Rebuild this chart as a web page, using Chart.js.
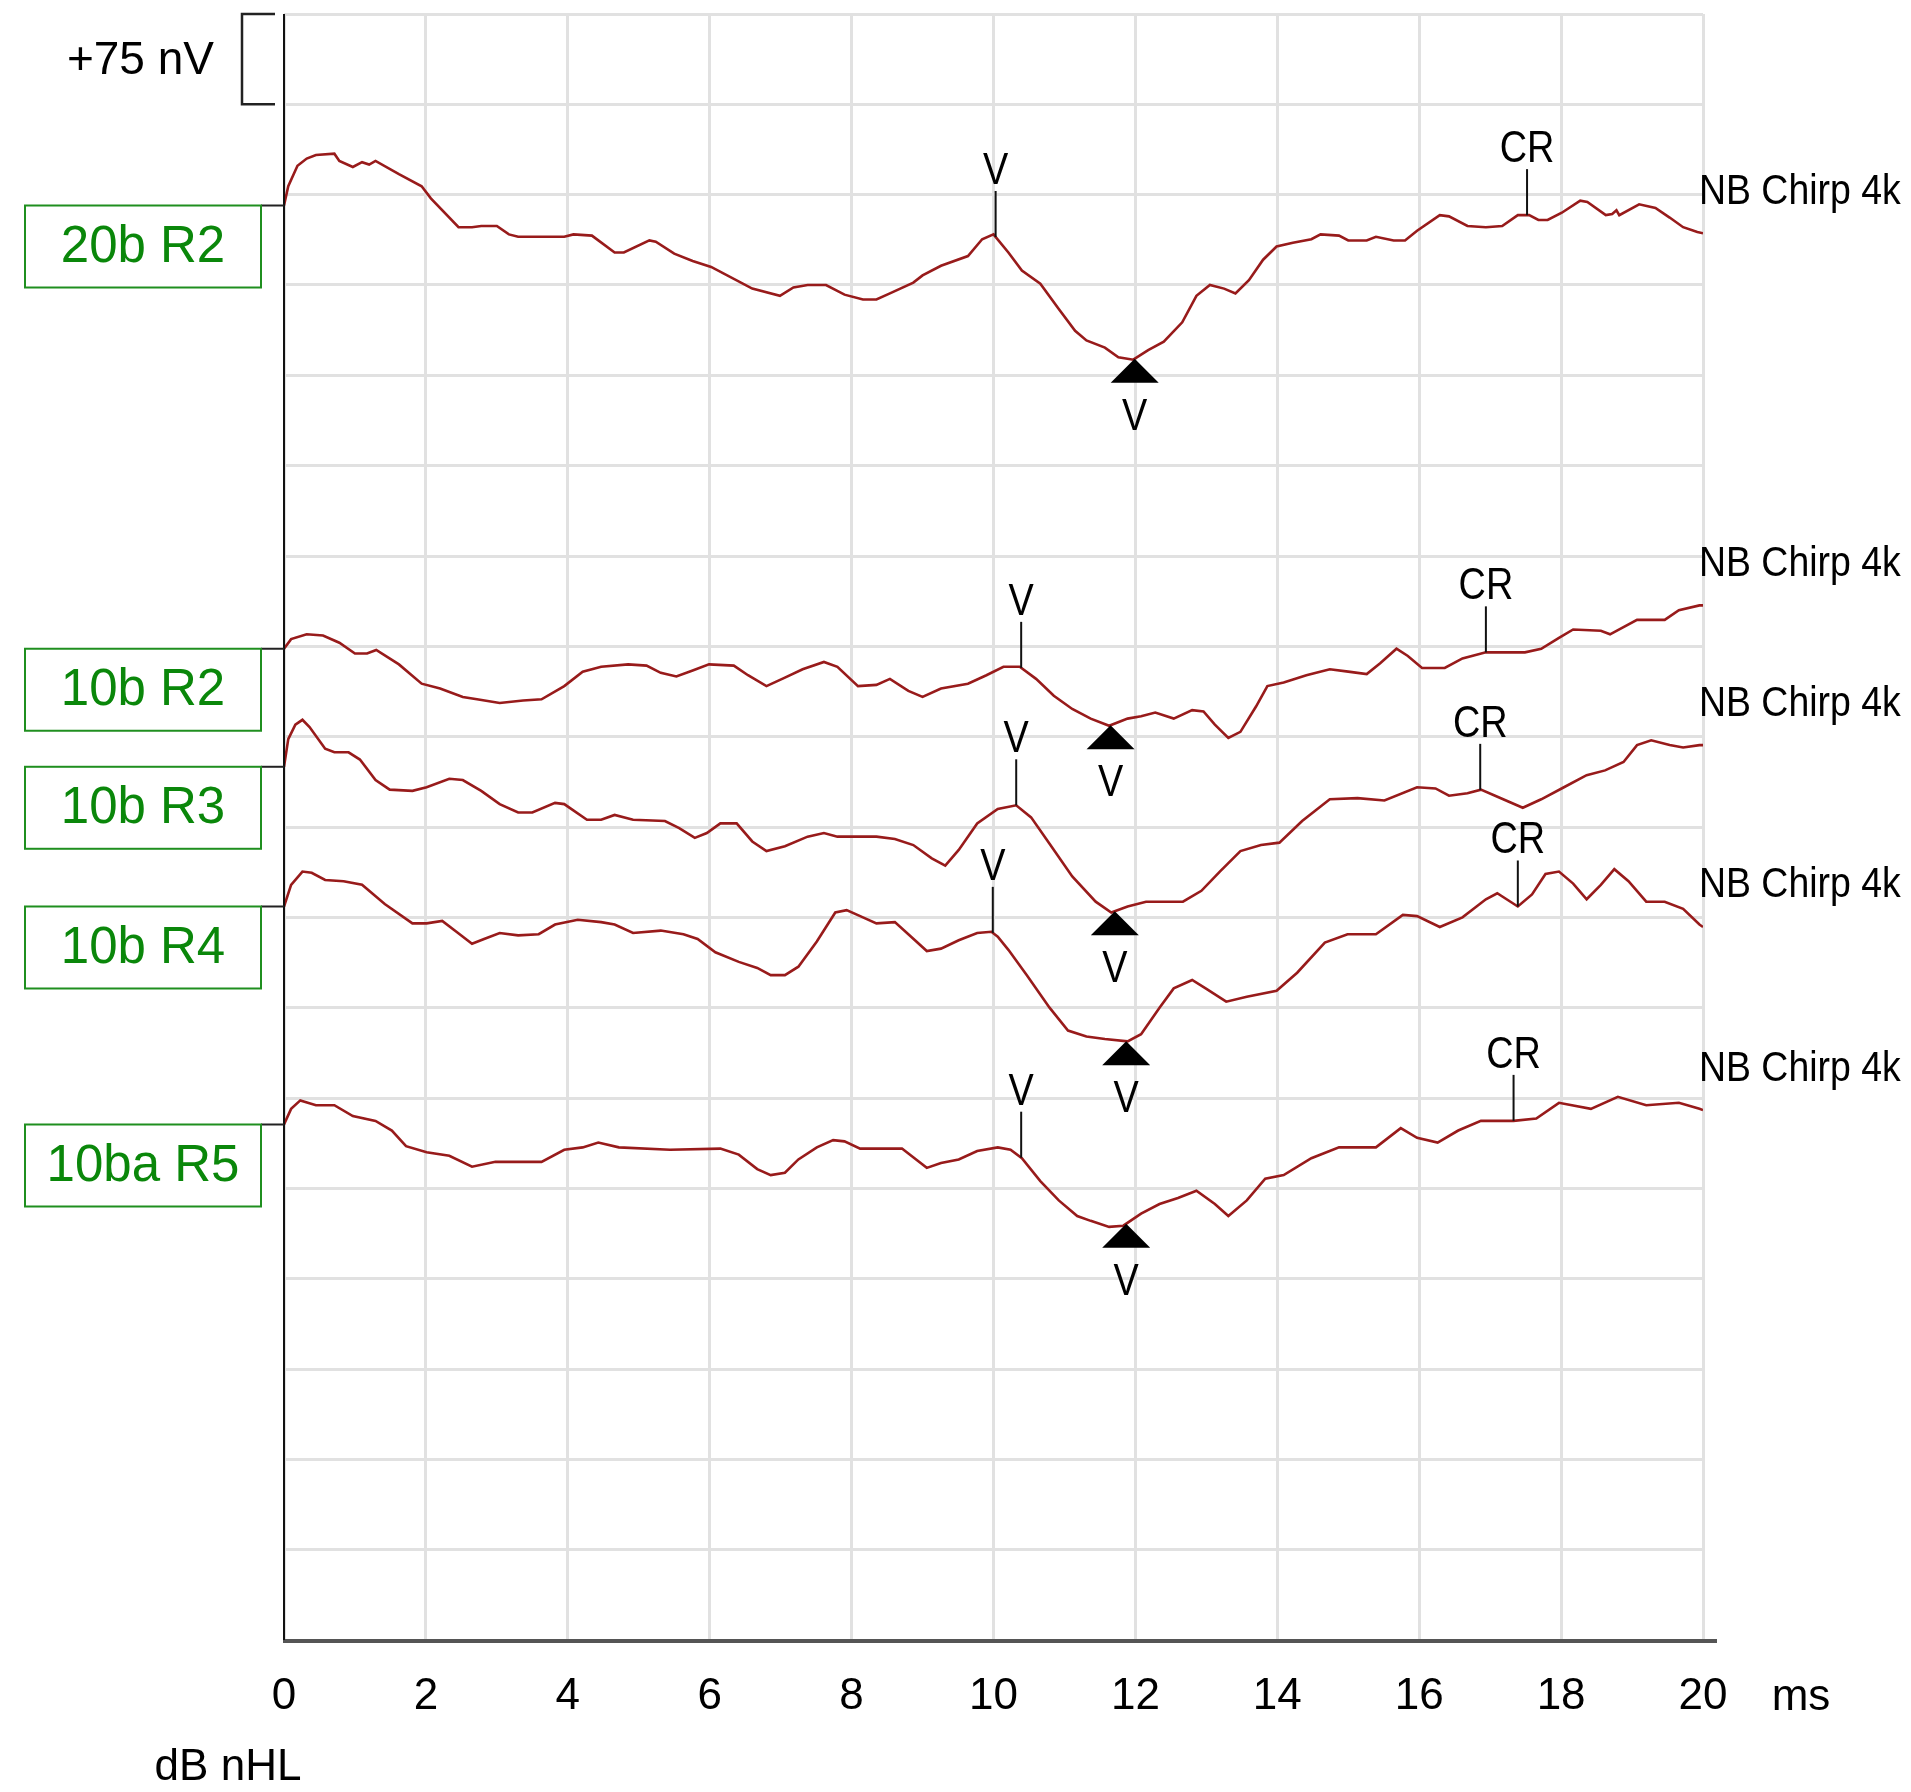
<!DOCTYPE html>
<html>
<head>
<meta charset="utf-8">
<title>ABR NB Chirp 4k</title>
<script src="https://cdn.jsdelivr.net/npm/chart.js@4.4.1/dist/chart.umd.min.js"></script>
<style>
body{margin:0;background:#fff;}
canvas{display:block;}
</style>
</head>
<body>
<canvas id="abr" width="1911" height="1792"></canvas>
<script>

/* AXES */

const xTicks=[0,2,4,6,8,10,12,14,16,18,20];
const yMax=1350;
const scaleBar=75;


/* TRACE NAMES, BASELINES (nV) AND STIMULUS LABELS */

const traceNames=["20b R2","10b R2","10b R3","10b R4","10ba R5"];
const baselines=[1191,823,725,609,428];
const stimLabel="NB Chirp 4k";
const stimLabelY=[1202,893,777,627,474];


/* TRACE 1 : 20b R2 (time ms / amplitude nV) */

const t1Time=[0,0.06,0.19,0.32,0.45,0.71,0.78,0.97,1.1,1.2,1.29,1.62,1.94,2.07,2.46,2.65,2.78,3.0,3.17,3.3,3.95,4.08,4.34,4.66,4.79,5.15,5.24,5.5,5.76,6.02,6.6,6.99,7.18,7.38,7.64,7.9,8.16,8.35,8.54,8.87,9.0,9.26,9.64,9.84,10.0,10.21,10.4,10.66,10.92,11.15,11.31,11.57,11.76,11.97,12.18,12.4,12.66,12.86,13.05,13.25,13.41,13.6,13.8,13.99,14.22,14.48,14.61,14.87,15.0,15.26,15.39,15.64,15.8,15.97,16.29,16.42,16.68,16.94,17.17,17.39,17.55,17.68,17.81,18.01,18.27,18.37,18.63,18.72,18.78,18.82,19.1,19.33,19.53,19.72,19.92,20.0];
const t1Amp=[0,16,33,39,42,43,37,32,36,34,37,26,16,6,-18,-18,-17,-17,-24,-26,-26,-24,-25,-39,-39,-29,-30,-40,-46,-51,-69,-75,-68,-66,-66,-74,-78,-78,-73,-64,-58,-50,-42,-28,-24,-39,-54,-65,-86,-104,-112,-118,-126,-128,-120,-113,-97,-75,-66,-69,-73,-62,-45,-34,-31,-28,-24,-25,-29,-29,-26,-29,-29,-21,-8,-9,-17,-18,-17,-8,-8,-12,-12,-6,4,3,-8,-7,-4,-8,1,-2,-10,-18,-22,-23];


/* TRACE 2 : 10b R2 */

const t2Time=[0,0.1,0.32,0.55,0.78,1.0,1.17,1.3,1.62,1.94,2.2,2.52,2.72,3.04,3.37,3.63,3.95,4.21,4.47,4.85,5.11,5.31,5.53,5.76,5.99,6.34,6.54,6.8,7.06,7.31,7.61,7.8,8.09,8.35,8.54,8.8,9.0,9.26,9.64,9.9,10.14,10.37,10.6,10.85,11.11,11.37,11.63,11.89,12.08,12.28,12.54,12.8,12.96,13.12,13.31,13.48,13.7,13.86,14.09,14.41,14.74,15.0,15.26,15.45,15.68,15.84,16.04,16.36,16.61,16.94,17.2,17.49,17.72,17.97,18.17,18.56,18.69,19.07,19.46,19.66,19.95,20.0];
const t2Amp=[0,8,12,11,5,-4,-4,-1,-13,-29,-33,-40,-42,-45,-43,-42,-31,-19,-15,-13,-14,-20,-23,-18,-13,-14,-22,-31,-24,-17,-11,-15,-31,-30,-25,-35,-40,-33,-29,-22,-15,-15,-25,-39,-50,-58,-64,-58,-56,-53,-58,-51,-52,-63,-74,-69,-48,-31,-28,-22,-17,-19,-21,-12,0,-6,-16,-16,-8,-3,-3,-3,0,9,16,15,12,24,24,32,36,36];


/* TRACE 3 : 10b R3 */

const t3Time=[0,0.06,0.16,0.26,0.36,0.58,0.71,0.91,1.07,1.29,1.49,1.81,2.01,2.33,2.52,2.78,3.04,3.3,3.5,3.82,3.95,4.27,4.47,4.66,4.92,5.37,5.57,5.79,5.96,6.15,6.38,6.6,6.8,7.06,7.38,7.61,7.8,8.35,8.61,8.87,9.13,9.32,9.51,9.77,10.06,10.32,10.53,10.79,11.11,11.44,11.66,11.89,12.15,12.41,12.67,12.93,13.19,13.48,13.77,14.03,14.35,14.74,15.13,15.51,15.97,16.23,16.42,16.68,16.87,17.07,17.46,17.72,18.04,18.36,18.62,18.88,19.07,19.27,19.53,19.72,19.95,20.0];
const t3Amp=[0,23,35,39,33,15,12,12,6,-11,-19,-20,-17,-10,-11,-20,-31,-38,-38,-30,-31,-44,-44,-40,-44,-45,-51,-59,-55,-47,-47,-62,-70,-66,-58,-55,-58,-58,-60,-65,-76,-82,-69,-47,-35,-32,-42,-64,-91,-112,-121,-116,-112,-112,-112,-103,-87,-70,-65,-63,-45,-27,-26,-28,-17,-18,-24,-22,-19,-24,-34,-27,-17,-7,-3,4,18,22,18,16,18,18];


/* TRACE 4 : 10b R4 */

const t4Time=[0,0.1,0.26,0.39,0.58,0.84,1.1,1.42,1.81,2.01,2.23,2.43,2.65,2.82,3.04,3.3,3.59,3.82,4.14,4.47,4.66,4.92,5.31,5.63,5.83,6.08,6.41,6.67,6.86,7.06,7.25,7.51,7.77,7.93,8.16,8.35,8.61,8.8,9.06,9.26,9.51,9.77,9.97,10.06,10.21,10.47,10.79,11.05,11.31,11.57,11.89,12.08,12.34,12.54,12.8,12.99,13.28,13.57,13.99,14.28,14.67,14.99,15.39,15.77,15.97,16.29,16.61,16.94,17.1,17.39,17.59,17.78,17.97,18.17,18.36,18.56,18.75,18.95,19.2,19.46,19.72,19.95,20.0];
const t4Amp=[0,18,29,28,22,21,18,2,-14,-14,-12,-21,-31,-27,-22,-24,-23,-15,-11,-13,-15,-22,-20,-23,-27,-38,-46,-51,-57,-57,-50,-29,-5,-3,-9,-14,-13,-23,-37,-35,-28,-22,-21,-25,-36,-57,-84,-103,-108,-110,-112,-106,-84,-68,-61,-68,-79,-75,-70,-55,-30,-23,-23,-7,-8,-17,-9,6,11,0,10,27,29,19,6,18,31,21,4,4,-2,-15,-17];


/* TRACE 5 : 10ba R5 */

const t5Time=[0,0.1,0.23,0.45,0.71,0.97,1.29,1.52,1.72,2.01,2.33,2.65,2.98,3.63,3.95,4.21,4.43,4.72,5.44,6.15,6.41,6.67,6.86,7.06,7.25,7.51,7.74,7.9,8.12,8.71,9.06,9.26,9.51,9.77,10.06,10.24,10.4,10.66,10.92,11.18,11.37,11.63,11.83,12.08,12.34,12.6,12.86,13.12,13.31,13.57,13.83,14.09,14.48,14.87,15.39,15.74,15.97,16.26,16.55,16.87,17.33,17.65,17.97,18.42,18.8,19.2,19.66,19.95,20.0];
const t5Amp=[0,13,20,16,16,7,3,-5,-18,-23,-26,-35,-31,-31,-21,-19,-15,-19,-21,-20,-25,-37,-42,-40,-29,-19,-13,-14,-20,-20,-36,-32,-29,-22,-19,-21,-28,-47,-63,-76,-80,-85,-84,-74,-66,-61,-55,-66,-76,-63,-45,-42,-28,-19,-19,-3,-11,-15,-5,3,3,5,18,13,23,16,18,13,12];


/* PEAK MARKERS (ms) */

const peakV=[10.03,10.39,10.32,9.99,10.39];
const troughV=[11.99,11.65,11.71,11.87,11.87];
const crMark=[17.52,16.94,16.86,17.39,17.33];


const traces=[
{time:t1Time,amp:t1Amp},
{time:t2Time,amp:t2Amp},
{time:t3Time,amp:t3Amp},
{time:t4Time,amp:t4Amp},
{time:t5Time,amp:t5Amp}
];

const FONT="'Liberation Sans', Arial, Helvetica, sans-serif";


/* AMPLITUDE AT A GIVEN TIME */

function ampAt(i,t){

const tr=traces[i];

for(let k=1;k<tr.time.length;k++){
if(t<=tr.time[k]){
const f=(t-tr.time[k-1])/(tr.time[k]-tr.time[k-1]);
return tr.amp[k-1]+f*(tr.amp[k]-tr.amp[k-1]);
}
}

return tr.amp[tr.amp.length-1];

}


/* NARROW TEXT (the labels in the picture are condensed) */

function narrowText(ctx,text,x,y,k){

const w=ctx.measureText(text).width;
ctx.fillText(text,x,y,w*k);

}


/* DRAW LABELS, MARKERS, SCALE BAR */

const overlay={

id:"overlay",

afterDatasetsDraw(chart){

const ctx=chart.ctx;
const xs=chart.scales.x;
const ys=chart.scales.y;
const area=chart.chartArea;

ctx.save();


/* AXIS LINES */

ctx.strokeStyle="#555";
ctx.lineWidth=4;
ctx.beginPath();
ctx.moveTo(area.left-1,area.bottom+1);
ctx.lineTo(area.right+14,area.bottom+1);
ctx.stroke();

ctx.strokeStyle="#111";
ctx.lineWidth=2;
ctx.beginPath();
ctx.moveTo(area.left,area.top);
ctx.lineTo(area.left,area.bottom);
ctx.stroke();


/* SCALE BAR */

const sTop=ys.getPixelForValue(yMax);
const sBot=ys.getPixelForValue(yMax-scaleBar);

ctx.strokeStyle="#222";
ctx.lineWidth=2.5;
ctx.beginPath();
ctx.moveTo(275,sTop);
ctx.lineTo(242,sTop);
ctx.lineTo(242,sBot);
ctx.lineTo(275,sBot);
ctx.stroke();

ctx.fillStyle="#000";
ctx.font="46px "+FONT;
ctx.textAlign="right";
ctx.textBaseline="middle";
ctx.fillText("+"+scaleBar+" nV",214,(sTop+sBot)/2+2);


/* AXIS TITLES */

ctx.font="44px "+FONT;
ctx.textAlign="center";
ctx.fillText("ms",1801,1698);
ctx.fillText("dB nHL",228,1768);


/* TRACES */

for(let i=0;i<traces.length;i++){

const by=ys.getPixelForValue(baselines[i]);


/* BASELINE TICK AND GREEN BOX */

ctx.strokeStyle="#222";
ctx.lineWidth=2;
ctx.beginPath();
ctx.moveTo(261,by);
ctx.lineTo(area.left,by);
ctx.stroke();

ctx.strokeStyle="#1f8f1f";
ctx.lineWidth=2;
ctx.strokeRect(25,by,236,82);

ctx.fillStyle="#0a870a";
ctx.font="51px "+FONT;
ctx.textAlign="center";
ctx.textBaseline="middle";
ctx.fillText(traceNames[i],143,by+42);


/* STIMULUS LABEL */

ctx.fillStyle="#000";
ctx.font="43px "+FONT;
ctx.textAlign="left";
ctx.textBaseline="middle";
narrowText(ctx,stimLabel,1699,ys.getPixelForValue(stimLabelY[i]),0.87);


/* V PEAK AND CR TICKS */

ctx.font="44px "+FONT;
ctx.textAlign="center";
ctx.textBaseline="alphabetic";
ctx.strokeStyle="#111";
ctx.lineWidth=2;

[[peakV[i],"V"],[crMark[i],"CR"]].forEach(function(m){

const px=xs.getPixelForValue(m[0]);
const py=ys.getPixelForValue(baselines[i]+ampAt(i,m[0]));

ctx.beginPath();
ctx.moveTo(px,py);
ctx.lineTo(px,py-46);
ctx.stroke();

narrowText(ctx,m[1],px,py-53,0.86);

});


/* V TROUGH TRIANGLE */

const tx=xs.getPixelForValue(troughV[i]);
const ty=ys.getPixelForValue(baselines[i]+ampAt(i,troughV[i]));

ctx.beginPath();
ctx.moveTo(tx,ty);
ctx.lineTo(tx+24,ty+24);
ctx.lineTo(tx-24,ty+24);
ctx.closePath();
ctx.fill();

narrowText(ctx,"V",tx,ty+71,0.86);

}

ctx.restore();

}

};


/* CREATE CHART */

const datasets=traces.map(function(tr,i){

return{
label:traceNames[i],
data:tr.time.map(function(t,k){return{x:t,y:baselines[i]+tr.amp[k]};}),
borderColor:"#981b1b",
borderWidth:2.6,
pointRadius:0,
tension:0,
fill:false
};

});

new Chart(document.getElementById("abr"),{

type:"line",

data:{datasets:datasets},

options:{
responsive:false,
animation:false,
layout:{padding:{left:284,right:208,top:14,bottom:0}},

plugins:{
legend:{display:false},
tooltip:{enabled:false}
},

scales:{
x:{
type:"linear",
min:xTicks[0],
max:xTicks[xTicks.length-1],
afterBuildTicks:function(s){s.ticks=xTicks.map(function(v){return{value:v};});},
afterFit:function(s){s.height=152;},
ticks:{
color:"#000",
font:{family:FONT,size:44},
padding:30,
autoSkip:false,
maxRotation:0
},
grid:{color:"#e1e1e1",lineWidth:3,drawTicks:false},
border:{display:false}
},

y:{
min:0,
max:yMax,
afterFit:function(s){s.width=0;},
ticks:{display:false,stepSize:scaleBar},
grid:{color:"#e1e1e1",lineWidth:3,drawTicks:false},
border:{display:false}
}
}
},

plugins:[overlay]

});

</script>
</body>
</html>
